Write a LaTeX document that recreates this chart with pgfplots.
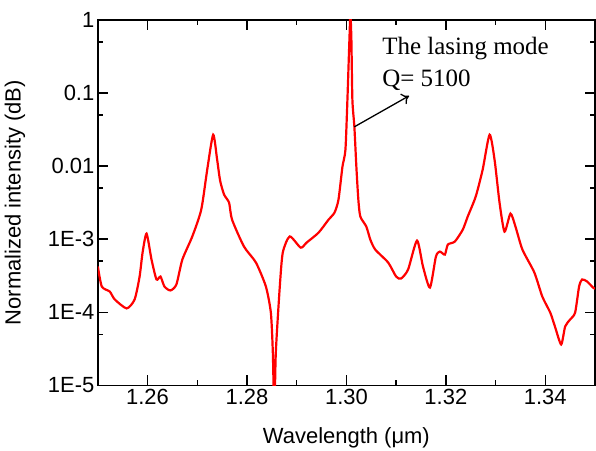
\documentclass[border=0pt]{standalone}
\usepackage{pgfplots}
\pgfplotsset{compat=1.18}
\usetikzlibrary{arrows.meta}
\usepackage{fontspec}
\setmainfont{Liberation Sans}
\newfontfamily\annfont{Liberation Serif}

\begin{document}
\begin{tikzpicture}
  \begin{axis}[
      scale only axis,
      width=498pt, height=366pt,
      ymode=log,
      xmin=1.25, xmax=1.35,
      ymin=1e-5, ymax=1,
      xtick={1.26,1.28,1.30,1.32,1.34},
      xticklabels={1.26,1.28,1.30,1.32,1.34},
      minor xtick={1.27,1.29,1.31,1.33},
      ytick={1e-5,1e-4,1e-3,1e-2,1e-1,1},
      yticklabels={1E-5,1E-4,1E-3,0.01,0.1,1},
      minor ytick={5e-5,5e-4,5e-3,5e-2,5e-1},
      tick align=inside,
      major tick length=10pt,
      minor tick length=5pt,
      tick style={draw=black, line width=1.5pt},
      axis line style={line width=1.6pt},
      tick label style={font=\fontsize{22}{26}\selectfont},
      label style={font=\fontsize{22}{26}\selectfont},
      xlabel={Wavelength (μm)},
      ylabel={Normalized intensity (dB)},
      xlabel style={at={(axis description cs:0.5,-0.158)}, anchor=base},
      ylabel style={at={(axis description cs:-0.1667,0.5)}, anchor=center},
    ]
    \addplot[red, line width=2.2pt, smooth, tension=0.4] coordinates {
      (1.2500,4.23e-4) (1.2508,2.25e-4) (1.2524,1.92e-4) (1.2534,1.50e-4)
      (1.2558,1.13e-4) (1.2574,1.50e-4) (1.2584,3.08e-4) (1.2590,6.56e-4)
      (1.2598,1.19e-3) (1.2608,5.26e-4) (1.2618,2.81e-4) (1.2626,3.08e-4)
      (1.2634,2.25e-4) (1.2646,1.99e-4) (1.2658,2.40e-4) (1.2670,5.26e-4)
      (1.2690,1.09e-3) (1.2708,2.54e-3) (1.2720,8.93e-3) (1.2732,2.69e-2)
      (1.2740,1.22e-2) (1.2746,6.32e-3) (1.2754,4.07e-3) (1.2764,3.16e-3)
      (1.2770,1.85e-3) (1.2794,7.92e-4) (1.2818,4.79e-4) (1.2838,2.25e-4)
      (1.2848,9.9e-5) (1.2852,2.82e-5) (1.2855,4e-6) (1.2858,2.82e-5)
      (1.2866,2.25e-4) (1.2872,6.56e-4) (1.2886,1.09e-3) (1.2908,7.67e-4)
      (1.2920,8.99e-4) (1.2944,1.23e-3) (1.2964,1.85e-3) (1.2976,2.31e-3)
      (1.2984,3.47e-3) (1.2992,9.8e-3) (1.2998,1.67e-2) (1.3002,8.07e-2)
      (1.3006,0.533) (1.3008,1.2) (1.3010,0.533) (1.3012,8.07e-2)
      (1.3016,3.45e-2) (1.3020,9.8e-3) (1.3024,3.47e-3) (1.3028,2.04e-3)
      (1.3040,1.49e-3) (1.3048,9.9e-4) (1.3058,7.21e-4) (1.3084,4.79e-4)
      (1.3100,3.08e-4) (1.3110,2.90e-4) (1.3124,3.84e-4) (1.3142,9.57e-4)
      (1.3154,4.23e-4) (1.3168,2.18e-4) (1.3180,5.78e-4) (1.3188,6.77e-4)
      (1.3198,6.16e-4) (1.3204,8.44e-4) (1.3218,9.27e-4) (1.3234,1.35e-3)
      (1.3244,2.04e-3) (1.3260,3.82e-3) (1.3274,8.93e-3) (1.3288,2.69e-2)
      (1.3298,1.22e-2) (1.3308,3.16e-3) (1.3318,1.27e-3) (1.3330,2.24e-3)
      (1.3340,1.49e-3) (1.3354,7.21e-4) (1.3378,3.50e-4) (1.3394,1.64e-4)
      (1.3410,9.9e-5) (1.3420,6.2e-5) (1.3432,3.63e-5) (1.3440,6.4e-5)
      (1.3450,7.97e-5) (1.3460,9.9e-5) (1.3468,2.25e-4) (1.3474,2.81e-4)
      (1.3484,2.64e-4) (1.3496,2.18e-4) (1.3500,2.10e-4)
    };
    % annotation for the lasing peak
    \draw[-{To[length=7pt,width=12pt]}, line width=1.3pt, black]
      (axis cs:1.3016,0.0345) -- (axis cs:1.3126,0.0916);
    \node[anchor=base west, inner sep=0pt, font=\annfont\fontsize{25}{30}\selectfont]
      at (axis cs:1.3072,0.3326) {The lasing mode};
    \node[anchor=base west, inner sep=0pt, font=\annfont\fontsize{25}{30}\selectfont]
      at (axis cs:1.3072,0.1216) {Q= 5100};
    \coordinate (ll) at (rel axis cs:0,0);
    \coordinate (ur) at (rel axis cs:1,1);
  \end{axis}
  \pgfresetboundingbox
  \useasboundingbox ([xshift=-98pt,yshift=-65pt]ll) rectangle ([xshift=1pt,yshift=20pt]ur);
\end{tikzpicture}
\end{document}
